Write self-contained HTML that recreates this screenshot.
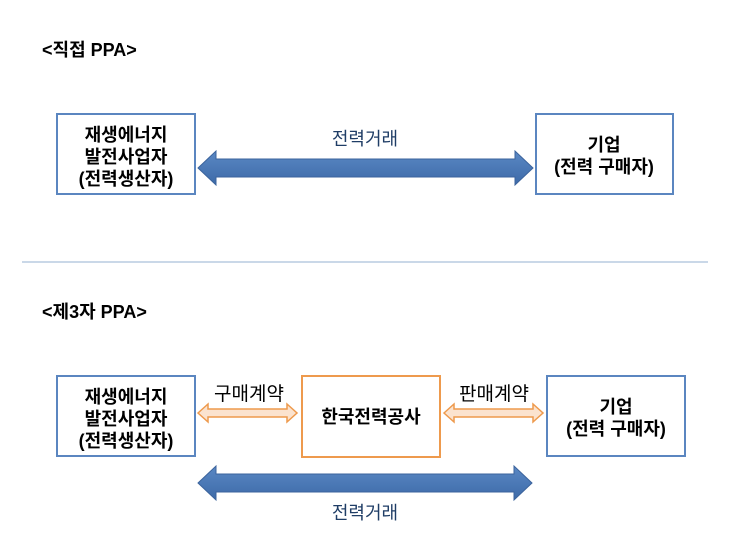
<!DOCTYPE html>
<html><head><meta charset="utf-8"><style>
html,body{margin:0;padding:0;background:#fff;width:730px;height:548px;overflow:hidden}
svg{display:block}
text{font-family:"Liberation Sans","Noto Sans CJK KR",sans-serif}
</style></head><body>
<svg width="730" height="548" viewBox="0 0 730 548" xmlns="http://www.w3.org/2000/svg">
<defs>
<linearGradient id="bl" x1="0" y1="0" x2="0" y2="1">
<stop offset="0" stop-color="#5a88c4"/><stop offset="1" stop-color="#3d6aa8"/></linearGradient>
</defs>
<text x="42" y="56" font-size="18" font-weight="bold" fill="#000">&lt;직접 PPA&gt;</text>
<rect x="57" y="114" width="138" height="80" fill="#fff" stroke="#5b86c0" stroke-width="2"/>
<text x="126" y="141" font-size="18" font-weight="bold" text-anchor="middle">재생에너지</text>
<text x="126" y="163" font-size="18" font-weight="bold" text-anchor="middle">발전사업자</text>
<text x="126" y="185" font-size="18" font-weight="bold" text-anchor="middle">(전력생산자)</text>
<rect x="536" y="114" width="137" height="80" fill="#fff" stroke="#5b86c0" stroke-width="2"/>
<text x="604" y="151" font-size="18" font-weight="bold" text-anchor="middle">기업</text>
<text x="604" y="173" font-size="18" font-weight="bold" text-anchor="middle">(전력 구매자)</text>
<text x="365" y="145" font-size="18" fill="#1f3d66" text-anchor="middle">전력거래</text>
<polygon points="198,168 216,151 216,159 515,159 515,151 533,168 515,185 515,177 216,177 216,185" fill="url(#bl)" stroke="#3b639c" stroke-width="1"/>
<line x1="22" y1="262" x2="708" y2="262" stroke="#b8cbe0" stroke-width="1.5"/>
<text x="42" y="318" font-size="18" font-weight="bold" fill="#000">&lt;제3자 PPA&gt;</text>
<rect x="57" y="376" width="138" height="80" fill="#fff" stroke="#5b86c0" stroke-width="2"/>
<text x="126" y="403" font-size="18" font-weight="bold" text-anchor="middle">재생에너지</text>
<text x="126" y="425" font-size="18" font-weight="bold" text-anchor="middle">발전사업자</text>
<text x="126" y="447" font-size="18" font-weight="bold" text-anchor="middle">(전력생산자)</text>
<rect x="302" y="376" width="138" height="81" fill="#fff" stroke="#ee9a4d" stroke-width="2"/>
<text x="371" y="423" font-size="18" font-weight="bold" text-anchor="middle">한국전력공사</text>
<rect x="547" y="376" width="138" height="80" fill="#fff" stroke="#5b86c0" stroke-width="2"/>
<text x="616" y="413" font-size="18" font-weight="bold" text-anchor="middle">기업</text>
<text x="616" y="435" font-size="18" font-weight="bold" text-anchor="middle">(전력 구매자)</text>
<text x="249" y="400" font-size="19" fill="#000" text-anchor="middle">구매계약</text>
<text x="494" y="400" font-size="19" fill="#000" text-anchor="middle">판매계약</text>
<polygon points="198,413 208,404 208,409 287,409 287,404 297,413 287,422 287,417 208,417 208,422" fill="#fbe3cf" stroke="#ee9a4d" stroke-width="1.5"/>
<polygon points="444,413 454,404 454,409 533,409 533,404 543,413 533,422 533,417 454,417 454,422" fill="#fbe3cf" stroke="#ee9a4d" stroke-width="1.5"/>
<polygon points="198,483 216,466 216,474 514,474 514,466 532,483 514,500 514,492 216,492 216,500" fill="url(#bl)" stroke="#3b639c" stroke-width="1"/>
<text x="365" y="519" font-size="18" fill="#1f3d66" text-anchor="middle">전력거래</text>
</svg>
</body></html>
